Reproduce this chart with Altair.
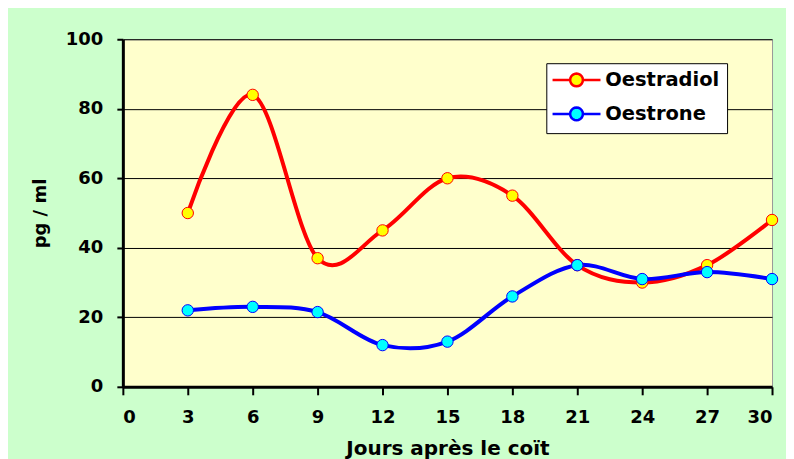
import math
import altair as alt
import pandas as pd

days = [3, 6, 9, 12, 15, 18, 21, 24, 27, 30]
oestradiol = [50, 84, 37, 45, 60, 55, 35, 30, 35, 48]
oestrone = [22, 23, 21.5, 12, 13, 26, 35, 31, 33, 31]
series = ["Oestradiol", "Oestrone"]
line_colors = ["#FF0000", "#0000FF"]
marker_colors = ["#FFFF00", "#00FFFF"]
x_ticks = list(range(0, 31, 3))
y_ticks = [0, 20, 40, 60, 80, 100]

rows = []
for name, vals in zip(series, [oestradiol, oestrone]):
    for d, v in zip(days, vals):
        rows.append({"jour": d, "valeur": v, "serie": name})
df = pd.DataFrame(rows)

FONT = "DejaVu Sans"

# legend symbol: a line with a circle (polygon) in its middle
rc = 0.8
circle = "M" + "L".join(
    f"{rc*math.cos(2*math.pi*k/20):.3f},{rc*math.sin(2*math.pi*k/20):.3f}"
    for k in range(20)
) + "Z"
sym_path = f"M-3,0L-{rc},0M{rc},0L3,0" + circle


def make_legend():
    return alt.Legend(
        title=None, orient="none", legendX=424, legendY=24,
        symbolType=sym_path, symbolSize=256, symbolStrokeWidth=2.5,
        symbolOffset=13.5, labelOffset=19,
        labelFont=FONT, labelFontSize=19.5, labelFontWeight="bold",
        labelColor="black", fillColor="white", strokeColor="black",
        padding=7, rowPadding=10, cornerRadius=0,
    )


x = alt.X(
    "jour:Q",
    scale=alt.Scale(domain=[0, 30], nice=False, zero=True),
    axis=alt.Axis(
        values=x_ticks, title="Jours après le coït", grid=False,
        domainColor="black", domainWidth=3, tickColor="black", tickWidth=2,
        tickSize=8, labelPadding=14, labelFont=FONT, labelFontSize=18,
        labelFontWeight="bold", labelColor="black", titleFont=FONT,
        titleFontSize=20, titleFontWeight="bold", titleColor="black",
        titleY=68, titleBaseline="alphabetic",
    ),
)
y = alt.Y(
    "valeur:Q",
    scale=alt.Scale(domain=[0, 100], nice=False),
    axis=alt.Axis(
        values=y_ticks, title="pg / ml", grid=True, gridColor="black",
        gridWidth=1, domainColor="black", domainWidth=3, tickColor="black",
        tickWidth=2, tickSize=6, labelPadding=14, labelFont=FONT,
        labelFontSize=18, labelFontWeight="bold", labelColor="black",
        titleFont=FONT, titleFontSize=18, titleFontWeight="bold",
        titleColor="black", titleX=-77, titleAngle=-90,
        titleBaseline="alphabetic",
    ),
)

stroke_scale = alt.Scale(domain=series, range=line_colors)
fill_scale = alt.Scale(domain=series, range=marker_colors)

base = alt.Chart(df)
lines = base.mark_line(interpolate="cardinal", strokeWidth=4).encode(
    x=x, y=y,
    stroke=alt.Stroke("serie:N", scale=stroke_scale, legend=make_legend()),
)
points = base.mark_point(filled=True, size=130, strokeWidth=1, opacity=1).encode(
    x=x, y=y,
    fill=alt.Fill("serie:N", scale=fill_scale, legend=make_legend()),
    stroke=alt.Stroke("serie:N", scale=stroke_scale, legend=make_legend()),
)

chart = (
    alt.layer(lines, points)
    .properties(
        width=650, height=348,
        padding={"left": 115, "top": 31, "right": 14, "bottom": 72},
        autosize=alt.AutoSizeParams(type="none"),
        background="#CCFFCC",
    )
    .configure_view(fill="#FFFFCC", stroke="#999999", strokeWidth=1)
)

chart.save("out.html", embed_options={"renderer": "svg", "actions": False})
